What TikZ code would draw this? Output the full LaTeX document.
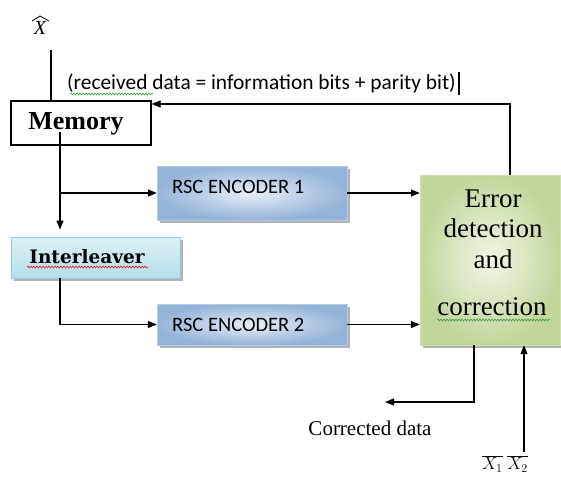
\documentclass[tikz,border=0pt]{standalone}
\usepackage{fontspec}
\setmainfont{Liberation Serif}
\newfontfamily\calib{Carlito}
\newfontfamily\wideserif{DejaVu Serif}
\usetikzlibrary{arrows.meta,shadows,decorations.pathmorphing,calc}
\definecolor{encout}{HTML}{95B3D7}
\definecolor{encin}{HTML}{E9EFF7}
\definecolor{grnout}{HTML}{C2D69A}
\definecolor{grnin}{HTML}{F2F6E9}
\definecolor{cyantop}{HTML}{DDF1F6}
\definecolor{cyanbot}{HTML}{B6DEE8}
\definecolor{cyanline}{HTML}{93CDDD}
\definecolor{spellgreen}{HTML}{3FA03F}
\definecolor{spellred}{HTML}{E02020}
\begin{document}
\begin{tikzpicture}[x=1pt,y=-1pt,
  arr/.style={draw=black,line width=1.1pt,-{Triangle[length=9pt,width=7pt]}},
  ln/.style={draw=black,line width=1.1pt},
  shad/.style={drop shadow={shadow xshift=2.5pt,shadow yshift=-2.5pt,fill=black,opacity=.3}},
  encbox/.style={shad,shading=radial,inner color=encin,outer color=encout,draw=encout!70,line width=.4pt,minimum width=190pt,inner sep=0pt},
  memtext/.style={font=\fontsize{26}{28}\selectfont\bfseries},
  enctext/.style={font=\calib\fontsize{20.5}{23}\selectfont,inner sep=0pt,anchor=west},
  serr/.style={font=\fontsize{27}{30}\selectfont,inner sep=0pt},
  squig/.style={decorate,decoration={snake,amplitude=1pt,segment length=3pt},line width=.6pt}
]
\useasboundingbox (0,0) rectangle (561,481);

% boxes
\node[draw=black,line width=1.2pt,minimum width=140pt,minimum height=44pt,inner sep=0pt] (mem) at (81,123) {};
\node[memtext,inner sep=0pt] (memt) at (76,124) {Memory};

\node[encbox,minimum height=54pt] (enc1) at (252,193) {};
\node[enctext] (enc1t) at (172,187) {RSC ENCODER 1};

\node[encbox,minimum height=41pt] (enc2) at (252,324.5) {};
\node[enctext] (enc2t) at (172,325) {RSC ENCODER 2};

\node[shad,top color=cyantop,bottom color=cyanbot,draw=cyanline,line width=.8pt,minimum width=169pt,minimum height=41pt,inner sep=0pt] (il) at (95.5,257.5) {};
\node[font=\wideserif\fontsize{18.5}{22}\selectfont\bfseries,inner sep=0pt] (ilt) at (87,257) {Interleaver};

\node[shad,shading=radial,inner color=grnin,outer color=grnout,draw=grnout!80,line width=.4pt,minimum width=140pt,minimum height=170pt,inner sep=0pt] (err) at (490,260) {};
\node[serr] (e1) at (493,199) {Error};
\node[serr] (e2) at (493,228) {detection};
\node[serr] (e3) at (493,259) {and};
\node[serr] (e4) at (492,307) {correction};

% labels
\node[font=\fontsize{20}{22}\selectfont\itshape,inner sep=0pt] (xhat) at (40,28) {X};
\coordinate (hat1) at (32,21);
\coordinate (hat2) at (40,16);
\coordinate (hat3) at (49,21);
\draw[line width=.8pt] (hat1) -- (hat2) -- (hat3);
\node[font=\calib\fontsize{21.4}{24}\selectfont,inner sep=0pt,anchor=west] (rcv) at (67,83) {(received data = information bits + parity bit)};
\node[font=\fontsize{21}{24}\selectfont,inner sep=0pt] (cd) at (370,428) {Corrected data};
\node[font=\fontsize{18}{20}\selectfont,inner sep=0pt] (xb) at (505,464) {$\overline{X_1}\;\overline{X_2}$};

% text cursor
\coordinate (cur1) at (459,72);
\coordinate (cur2) at (459,95);
\draw[line width=2pt] (cur1) -- (cur2);

% squiggles
\coordinate (s1a) at (70,94); \coordinate (s1b) at (153,94);
\draw[squig,spellgreen] (s1a) -- (s1b);
\coordinate (s2a) at (27,267); \coordinate (s2b) at (148,267);
\draw[squig,spellred] (s2a) -- (s2b);
\coordinate (s3a) at (437,320); \coordinate (s3b) at (550,320);
\draw[squig,spellgreen] (s3a) -- (s3b);

% connectors
\coordinate (xtop) at (51,50);
\draw[ln] (xtop) -- (xtop |- mem.north);

\coordinate (fb) at (510,104);
\draw[arr] (err.north -| fb) -- (fb) -- (fb -| mem.east);

\coordinate (ms) at (60,132);
\coordinate (br) at (60,193);
\draw[arr] (ms) -- ($(ms |- il.north)+(0,-7)$);
\draw[arr] (br) -- (enc1.west);

\draw[arr] (il.south -| ms) |- (enc2.west);

\draw[arr] (enc1.east) -- (err.west |- enc1.east);
\draw[arr] (enc2.east) -- (err.west |- enc2.east);

\coordinate (cdend) at (385,402);
\coordinate (cdstart) at (474,345);
\draw[arr] (err.south -| cdstart) |- (cdend);

\coordinate (xbl) at (524,452);
\draw[arr] (xbl) -- (xbl |- err.south);
\end{tikzpicture}
\end{document}
